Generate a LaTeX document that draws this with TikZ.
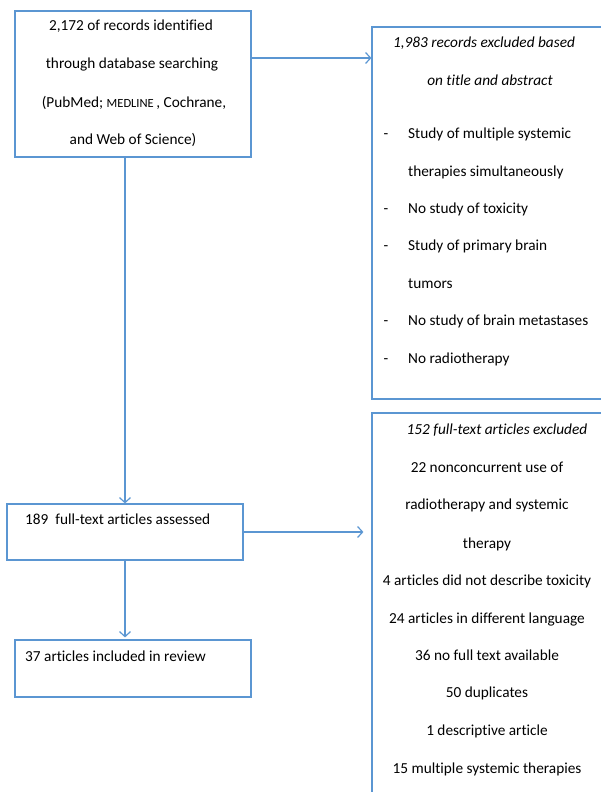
\documentclass[tikz,border=0pt]{standalone}
\usepackage{fontspec}
\setmainfont[Ligatures={NoCommon}]{Carlito}
\usetikzlibrary{arrows.meta}
\definecolor{flowblue}{RGB}{91,150,210}
\tikzset{
  box/.style={draw=flowblue, line width=1.2pt, rectangle, inner sep=0pt},
  arr/.style={draw=flowblue, line width=1.5pt, -{Straight Barb[length=5pt,width=11pt,line width=1.2pt]}},
  txt/.style={inner sep=0pt, anchor=base, text=black, font=\fontsize{15.3}{18}\selectfont},
  ltxt/.style={txt, anchor=base west},
  itxt/.style={txt, font=\fontsize{15.3}{18}\selectfont\itshape}
}
\begin{document}
\begin{tikzpicture}[x=1pt,y=-1pt]
\useasboundingbox (0,0) rectangle (601,792);
\clip (0,0) rectangle (601,792);
% boxes
\node[box, minimum width=236pt, minimum height=146pt] (b1) at (133,84) {};
\node[box, minimum width=240pt, minimum height=372pt] (b2) at (492,213) {};
\node[box, minimum width=240pt, minimum height=400pt] (b3) at (492,613) {};
\node[box, minimum width=236pt, minimum height=56pt] (b4) at (125,532) {};
\node[box, minimum width=236pt, minimum height=57pt] (b5) at (133,668.5) {};
% box 1 text
\node[txt] (t1a) at (131,31) {2,172 of records identified};
\node[txt] (t1b) at (132,69) {through database searching};
\node[txt] (t1c) at (134,107) {(PubMed; {\fontsize{12.5}{14}\selectfont MEDLINE}\,, Cochrane,};
\node[txt] (t1d) at (133,144) {and Web of Science)};
% box 2 text
\node[itxt] (t2a) at (484,48) {1,983 records excluded based};
\node[itxt] (t2b) at (490,85) {on title and abstract};
\foreach \yy/\tt [count=\i] in {138/Study of multiple systemic, 176/therapies simultaneously, 213/No study of toxicity, 250/Study of primary brain, 288/tumors, 325/No study of brain metastases, 363/No radiotherapy}{
  \node[ltxt] (t2l\i) at (408,\yy) {\tt};
}
\foreach \yy [count=\i] in {138,213,250,325,363}{
  \node[txt] (t2d\i) at (386,\yy) {-};
}
% box 3 text
\node[itxt] (t3a) at (497,434) {152 full-text articles excluded};
\foreach \yy/\tt [count=\i] in {472/22 nonconcurrent use of, 509/radiotherapy and systemic, 548/therapy, 585/4 articles did not describe toxicity, 623/24 articles in different language, 660/36 no full text available, 697/50 duplicates, 735/1 descriptive article, 773/15 multiple systemic therapies}{
  \node[txt] (t3l\i) at (487,\yy) {\tt};
}
% box 4, 5 text
\node[ltxt] (t4) at (25,524) {189\ \ full-text articles assessed};
\node[ltxt] (t5) at (25,661) {37 articles included in review};
% connectors
\coordinate (y1) at (0,58);
\draw[arr] (b1.east |- y1) -- (b2.west |- y1);
\draw[arr] (b4.north |- b1.south) -- (b4.north);
\draw[arr, shorten >=8pt] (b4.east) -- (b3.west |- b4.east);
\draw[arr, shorten >=2pt] (b4.south) -- (b4.south |- b5.north);
\end{tikzpicture}
\end{document}
